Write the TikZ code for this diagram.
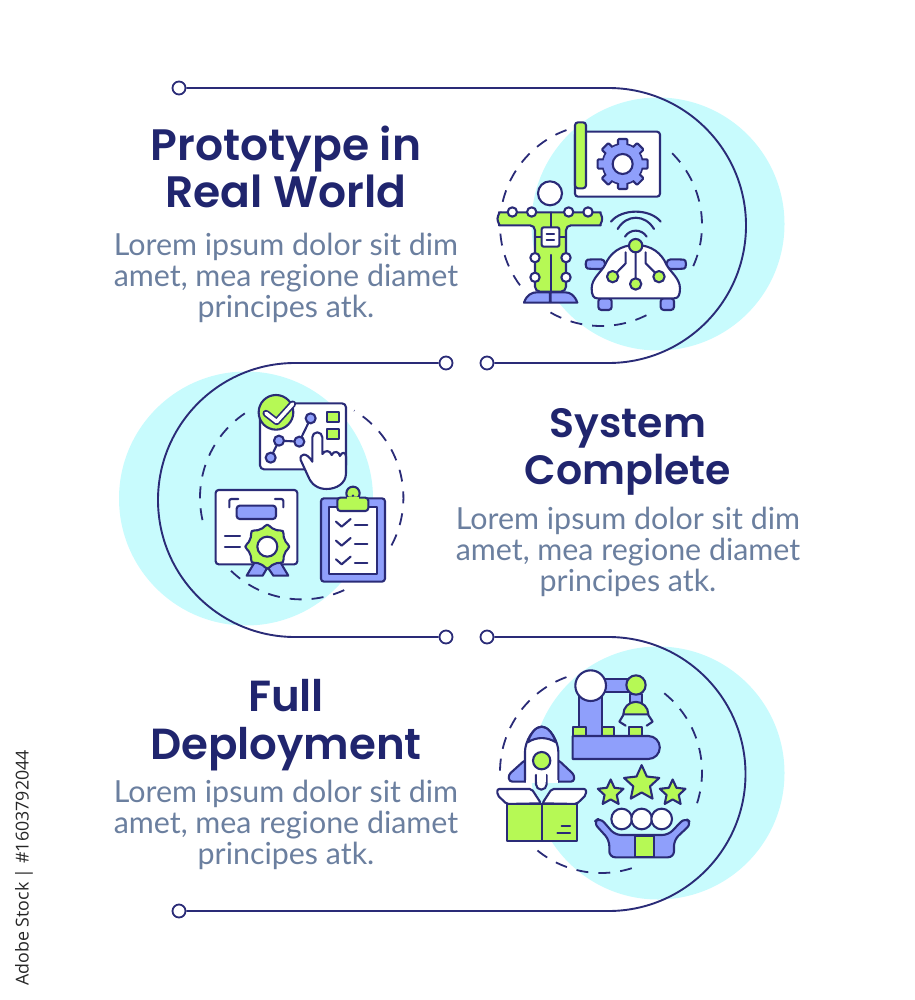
\documentclass[tikz,border=0pt]{standalone}
\usepackage{fontspec}
\setmainfont{Lato}
\newfontfamily\headfont{Poppins SemiBold}
\newfontfamily\stockfont{Open Sans}
\usetikzlibrary{shapes.geometric}
\definecolor{navy}{HTML}{2A2B77}
\definecolor{headnavy}{HTML}{20256E}
\definecolor{bodygray}{HTML}{6B7F9F}
\definecolor{aqua}{HTML}{C8FBFD}
\definecolor{lime}{HTML}{B6F955}
\definecolor{peri}{HTML}{8F9FFB}
\tikzset{
  ink/.style={draw=navy,line width=2.1pt,line join=round,line cap=round},
  limeink/.style={ink,fill=lime},
  periink/.style={ink,fill=peri},
  whiteink/.style={ink,fill=white},
  wire/.style={draw=navy,line width=1.9pt},
  dashring/.style={draw=navy,line width=1.8pt,dash pattern=on 12pt off 10pt},
  enddot/.style={circle,draw=navy,line width=1.8pt,fill=white,minimum size=13pt,inner sep=0pt},
  headtext/.style={text=headnavy,align=center,font=\headfont\fontsize{#1}{47.5}\selectfont},
  bodytext/.style={text=bodygray,align=center,font=\fontsize{30.4}{31}\selectfont},
  starmark/.style={star,star points=5,star point ratio=2.1,ink,fill=lime,inner sep=0pt}
}
\newcommand{\lorem}{Lorem ipsum dolor sit dim\\amet, mea regione diamet\\principes atk.}
\begin{document}
\begin{tikzpicture}[x=1pt,y=-1pt]
  \useasboundingbox (0,0) rectangle (914,1000);
  \fill[aqua] (658,224) circle (126.5);
  \fill[aqua] (246,498.5) circle (127);
  \fill[aqua] (658,773) circle (126.5);

  \node[enddot] (dotA) at (179,88) {};
  \node[enddot] (dotB) at (487,363) {};
  \node[enddot] (dotC) at (446,363) {};
  \node[enddot] (dotD) at (446,637) {};
  \node[enddot] (dotE) at (487,637) {};
  \node[enddot] (dotF) at (179,911) {};
  \draw[wire] (dotA) -- (608.5,88) arc (-90:90:137.5) -- (dotB);
  \draw[wire] (dotC) -- (295,363) arc (270:90:137) -- (dotD);
  \draw[wire] (dotE) -- (608.5,637) arc (-90:90:137) -- (dotF);

  \draw[dashring] (601,225) ++(250:101) arc (250:142:101);
  \draw[dashring] (601,225) ++(120:101) arc (120:60:101);
  \draw[dashring] (601,225) ++(24:101) arc (24:-48:101);
  \draw[dashring] (301.7,497.7) ++(236:101.7) arc (236:163:101.7);
  \draw[dashring] (301.7,497.7) ++(134:101.7) arc (134:62:101.7);
  \draw[dashring] (301.7,497.7) ++(28:101.7) arc (28:-59:101.7);
  \draw[dashring] (601,772) ++(250:101) arc (250:178:101);
  \draw[dashring] (601,772) ++(129:101) arc (129:69:101);
  \draw[dashring] (601,772) ++(18:101) arc (18:-55:101);

  \node[headtext=44] (headA) at (286,167) {Prototype in\\Real World};
  \node[bodytext] (bodyA) at (286,277.5) {\lorem};
  \node[headtext=41] (headB) at (628,452) {System\\Complete};
  \node[bodytext] (bodyB) at (628,551.5) {\lorem};
  \node[headtext=43.5] (headC) at (286,725) {Full\\Deployment};
  \node[bodytext] (bodyC) at (286,824.5) {\lorem};
  \node[rotate=90,text=black!85,font=\stockfont\fontsize{17.8}{20}\selectfont] (stock) at (24,868) {Adobe Stock | \#1603792044};

  \begin{scope}[shift={(480,80)},scale=0.3333]
    \draw[whiteink,rounded corners=3pt] (285,155) rectangle (540,350);
    \draw[limeink,rounded corners=3pt] (285,127) rectangle (318,325);
    \draw[periink] (428,252) circle (60);
    \foreach \a in {0,45,...,315}
      \draw[periink,rounded corners=1pt,rotate around={\a:(428,252)}] (414,177) rectangle (442,210);
    \fill[peri] (428,252) circle (58);
    \draw[whiteink] (428,252) circle (30);
    \draw[limeink,rounded corners=5pt] (165,397) -- (347,397) arc (-90:90:19.5) -- (258,436) -- (258,635) -- (165,635) -- (165,436) -- (72,436) arc (90:270:19.5) -- cycle;
    \draw[ink] (212,397) -- (212,442) (212,525) -- (212,635) (165,472) -- (258,472);
    \draw[whiteink] (210,340) circle (36);
    \draw[periink] (132,668) .. controls (140,645) and (155,637) .. (170,637) -- (210,637) -- (210,668) -- cycle;
    \draw[periink] (292,668) .. controls (284,645) and (270,637) .. (255,637) -- (212,637) -- (212,668) -- cycle;
    \draw[whiteink,rounded corners=2pt] (185,442) rectangle (238,500);
    \draw[ink] (200,462) -- (222,462) (200,480) -- (222,480);
    \foreach \p in {(97,396),(155,396),(266,396),(324,396),(165,533),(258,533),(165,592),(258,592)}
      \draw[whiteink] \p circle (14);
    \draw[periink,rounded corners=3pt] (355,655) rectangle (395,690);
    \draw[periink,rounded corners=3pt] (542,655) rectangle (582,690);
    \draw[periink,rounded corners=4pt] (375,567) -- (335,567) .. controls (315,565) and (315,540) .. (335,538) -- (375,538) -- cycle;
    \draw[periink,rounded corners=4pt] (560,567) -- (600,567) .. controls (620,565) and (620,540) .. (600,538) -- (560,538) -- cycle;
    \draw[whiteink] (352,655) .. controls (340,655) and (335,645) .. (335,625) .. controls (335,595) and (365,575) .. (375,555) .. controls (390,520) and (420,495) .. (467,495) .. controls (515,495) and (545,520) .. (560,555) .. controls (570,575) and (600,595) .. (600,625) .. controls (600,645) and (595,655) .. (583,655) -- cycle;
    \draw[ink] (467,517) -- (467,600) (437,517) -- (437,550) -- (410,578) (497,517) -- (497,550) -- (525,578);
    \draw[limeink] (467,497) circle (20);
    \draw[limeink] (467,612) circle (17);
    \draw[limeink] (398,590) circle (17);
    \draw[limeink] (537,590) circle (17);
    \draw[ink] (435,470) .. controls (450,446) and (485,446) .. (500,470);
    \draw[ink] (413,447) .. controls (440,402) and (495,402) .. (522,447);
    \draw[ink] (393,425) .. controls (425,385) and (510,385) .. (542,425);
  \end{scope}

  \begin{scope}[shift={(110,350)},scale=0.3333]
    \draw[whiteink,rounded corners=4pt] (450,160) rectangle (708,358);
    \draw[limeink] (498,187) circle (52);
    \draw[draw=navy,line width=7pt,line cap=round,line join=round] (468,190) -- (500,215) -- (548,162);
    \draw[draw=white,line width=3.6pt,line cap=round,line join=round] (468,190) -- (500,215) -- (548,162);
    \draw[limeink] (650,187) rectangle (688,215);
    \draw[limeink] (650,238) rectangle (688,268);
    \draw[ink] (602,205) -- (568,275) -- (507,272) -- (482,323);
    \foreach \p in {(602,205),(568,275),(507,272),(482,323)}
      \draw[periink] \p circle (15);
    \draw[whiteink] (607,335) -- (607,262) arc (180:360:15) -- (637,312) .. controls (645,300) and (660,300) .. (665,315) .. controls (672,300) and (688,305) .. (690,318) .. controls (695,305) and (708,305) .. (708,320) -- (708,370) .. controls (708,400) and (680,417) .. (650,417) .. controls (625,417) and (605,405) .. (595,380) -- (572,330) .. controls (568,310) and (590,305) .. (607,335);
    \draw[whiteink,rounded corners=3pt] (317,420) rectangle (562,643);
    \draw[ink,rounded corners=2pt] (358,472) -- (358,447) -- (385,447) (495,447) -- (520,447) -- (520,472);
    \draw[periink,rounded corners=3pt] (380,467) rectangle (498,507);
    \draw[ink] (345,558) -- (390,558) (345,592) -- (390,592);
    \draw[periink] (435,635) -- (410,677) -- (458,677) -- (480,640) -- cycle;
    \draw[periink] (465,640) -- (490,677) -- (535,677) -- (510,635) -- cycle;
    \draw[limeink] plot[smooth cycle,domain=0:345,samples=24,variable=\t] ({472+(60+6*cos(8*\t))*cos(\t)},{590+(60+6*cos(8*\t))*sin(\t)});
    \draw[whiteink] (472,590) circle (30);
    \draw[periink,rounded corners=3pt] (633,445) rectangle (825,695);
    \draw[whiteink] (657,470) rectangle (800,672);
    \draw[limeink] (729,430) circle (20);
    \draw[limeink,rounded corners=3pt] (682,443) rectangle (775,483);
    \fill[lime] (712,440) rectangle (746,448);
    \fill[navy] (729,437) circle (4);
    \foreach \d in {0,57,113} {
      \draw[ink] (678,515+\d) -- (695,530+\d) -- (722,507+\d);
      \draw[ink] (735,525+\d) -- (772,525+\d);
    }
  \end{scope}

  \begin{scope}[shift={(480,625)},scale=0.3333]
    \draw[periink] (450,208) rectangle (487,240);
    \draw[periink] (370,163) rectangle (450,200);
    \draw[periink] (298,200) rectangle (365,333);
    \draw[whiteink] (332,182) circle (46);
    \draw[limeink] (468,180) circle (29);
    \draw[limeink] (430,268) arc (180:360:37.5) -- cycle;
    \draw[ink] (430,270) -- (418,290) -- (437,302) (505,270) -- (518,290) -- (500,302);
    \draw[limeink] (280,305) rectangle (318,333);
    \draw[limeink] (365,305) rectangle (403,333);
    \draw[limeink] (448,305) rectangle (486,333);
    \draw[periink] (278,333) -- (505,333) arc (-90:90:34.5) -- (278,402) -- cycle;
    \draw[periink,rounded corners=3pt] (135,405) -- (85,450) -- (88,470) -- (282,470) -- (283,450) -- (235,405) -- cycle;
    \draw[whiteink] (135,470) -- (135,380) .. controls (135,350) and (160,305) .. (185,305) .. controls (210,305) and (235,350) .. (235,380) -- (235,470);
    \fill[white] (137,465) rectangle (233,475);
    \draw[periink] (143,352) .. controls (150,330) and (165,305) .. (185,305) .. controls (205,305) and (220,330) .. (228,352) .. controls (200,335) and (170,335) .. (143,352) -- cycle;
    \draw[limeink] (185,407) circle (26);
    \draw[limeink] (80,537) rectangle (290,647);
    \draw[ink] (185,537) -- (185,647) (245,603) -- (270,603) (232,624) -- (270,624);
    \draw[whiteink,rounded corners=2pt] (52,492) -- (155,492) -- (183,535) -- (80,537) -- (52,510) -- cycle;
    \draw[whiteink,rounded corners=2pt] (318,492) -- (215,492) -- (187,535) -- (290,537) -- (318,510) -- cycle;
    \draw[whiteink] (168,450) -- (168,478) arc (180:0:16) -- (200,450);
    \fill[white] (170,445) rectangle (198,470);
    \node[starmark,minimum size=37pt] (starB) at (485,476) {};
    \node[starmark,minimum size=27pt] (starA) at (392,504) {};
    \node[starmark,minimum size=27pt] (starC) at (578,504) {};
    \draw[periink,rounded corners=6pt] (340,592) -- (388,645) -- (388,697) -- (582,697) -- (582,645) -- (635,595) -- (615,578) -- (565,630) -- (405,630) -- (360,578) -- cycle;
    \draw[limeink] (465,632) rectangle (523,697);
    \draw[whiteink] (425,582) circle (31);
    \draw[whiteink] (485,582) circle (31);
    \draw[whiteink] (545,582) circle (31);
  \end{scope}
\end{tikzpicture}
\end{document}
